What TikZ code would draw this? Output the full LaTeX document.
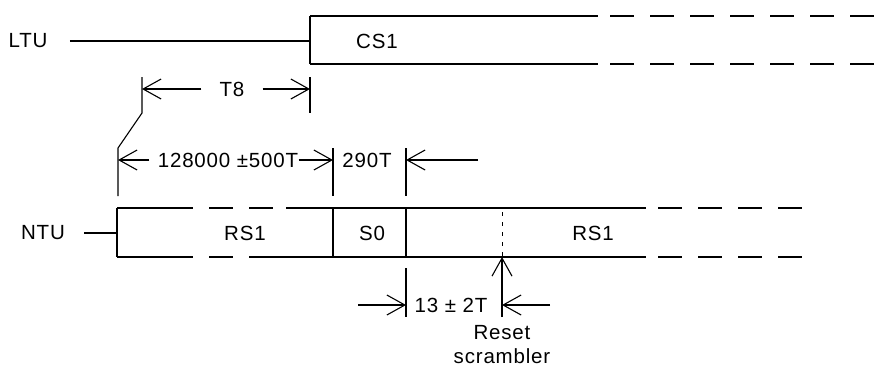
\documentclass[tikz,border=0pt]{standalone}
\usepackage{fontspec}
\setmainfont{Liberation Sans}[LetterSpace=4]
\usetikzlibrary{arrows.meta}

\begin{document}
\begin{tikzpicture}[x=1pt, y=-1pt, line width=1.1pt,
    lbl/.style={font=\fontsize{20.5}{24}\selectfont, inner sep=0pt, align=center},
    tip/.style={-{Straight Barb[length=18pt, width=20pt]}},
    longdash/.style={dash pattern=on 24pt off 16pt},
]
    \useasboundingbox (0,0) rectangle (890,370);
    % LTU signal
    \node[lbl] (ltu) at (28,41) {LTU};
    \coordinate (cs1in) at (310,41);
    \draw[shorten <=22pt] (ltu) -- (cs1in);
    \draw (310,16) -- (310,64);
    \draw (310,16) -- (598,16);
    \draw (310,64) -- (598,64);
    \draw[longdash] (610,16) -- (890,16);
    \draw[longdash] (610,64) -- (890,64);
    \node[lbl] (cs1) at (377,41) {CS1};
    % T8
    \draw (142,77) -- (142,113) -- (118,148) -- (118,196);
    \draw (310,77) -- (310,113);
    \coordinate (t8l) at (142,89);
    \coordinate (t8r) at (310,89);
    \node[lbl, minimum width=60pt] (t8) at (232,89) {T8};
    \draw[tip] (t8) -- (t8l);
    \draw[tip] (t8) -- (t8r);
    % 128000 and 290T
    \draw (333,148) -- (333,196);
    \draw (406,148) -- (406,196);
    \coordinate (wl) at (118,160);
    \coordinate (wr) at (333,160);
    \coordinate (sr) at (406,160);
    \coordinate (sfar) at (478,160);
    \node[lbl] (wait) at (228,160) {128000 ±500T};
    \draw[tip, shorten <=8pt] (wait.west) -- (wl);
    \draw[tip] (wait.east) -- (wr);
    \node[lbl] (s0len) at (367,160) {290T};
    \draw[tip] (sfar) -- (sr);
    % NTU signal
    \node[lbl] (ntu) at (43,233) {NTU};
    \coordinate (rs1in) at (117,233);
    \draw[shorten <=19pt] (ntu) -- (rs1in);
    \draw (117,208) -- (117,257);
    \draw[dash pattern=on 76pt off 16pt on 24pt off 16pt on 24pt off 13pt on 47pt] (117,208) -- (333,208);
    \draw[dash pattern=on 76pt off 16pt on 24pt off 16pt on 84pt] (117,257) -- (333,257);
    \draw (333,208) rectangle (406,257);
    \node[lbl] (rs1a) at (245,233) {RS1};
    \node[lbl] (s0) at (372,233) {S0};
    \draw (406,208) -- (646,208);
    \draw (406,257) -- (646,257);
    \draw[longdash] (658,208) -- (802,208);
    \draw[longdash] (658,257) -- (802,257);
    \node[lbl] (rs1b) at (593,233) {RS1};
    \draw[line width=0.8pt, dash pattern=on 4pt off 6pt] (502,212) -- (502,257);
    % 13 +- 2T and reset
    \draw (406,268) -- (406,317);
    \coordinate (rl) at (406,305);
    \coordinate (rfar) at (358,305);
    \draw[tip] (rfar) -- (rl);
    \node[lbl] (slip) at (451,305) {13 ± 2T};
    \coordinate (rbase) at (502,317);
    \coordinate (rtop) at (502,257);
    \draw[tip] (rbase) -- (rtop);
    \coordinate (rp) at (502,305);
    \coordinate (rpfar) at (550,305);
    \draw[tip] (rpfar) -- (rp);
    \node[lbl, anchor=north] (reset) at (502,325) {Reset\\scrambler};
\end{tikzpicture}
\end{document}
